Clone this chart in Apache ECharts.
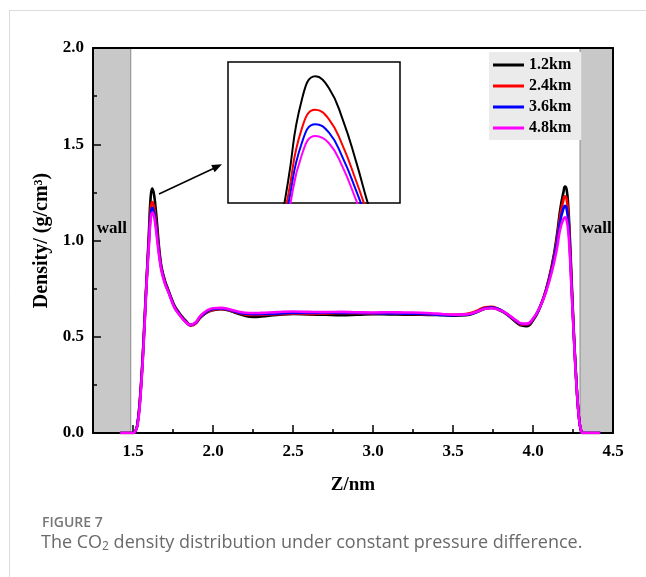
<!DOCTYPE html>
<html>
<head>
<meta charset="utf-8">
<script src="https://cdn.jsdelivr.net/npm/echarts@6/dist/echarts.min.js"></script>
<style>
html,body{margin:0;padding:0;background:#fff;}
#c{width:646px;height:577px;}
</style>
</head>
<body>
<div id="c"></div>
<script>
// Z position (nm)
const zNm = [1.42,1.50,1.52,1.53,1.54,1.55,1.56,1.57,1.58,1.59,1.60,1.61,1.62,1.63,1.64,1.65,1.66,1.67,1.68,1.70,
  1.72,1.74,1.76,1.78,1.80,1.83,1.86,1.89,1.92,1.96,2.00,2.05,2.10,2.15,2.20,2.25,2.30,2.40,2.50,2.60,
  2.70,2.80,2.90,3.00,3.10,3.20,3.30,3.40,3.50,3.58,3.65,3.70,3.74,3.78,3.82,3.86,3.90,3.93,3.96,4.00,
  4.04,4.08,4.12,4.15,4.17,4.19,4.20,4.21,4.22,4.23,4.24,4.25,4.26,4.27,4.28,4.29,4.30,4.31,4.42];
const d12 = [0,0,0.02,0.06,0.14,0.25,0.39,0.55,0.72,0.88,1.05,1.22,1.27,1.245,1.18,1.09,0.99,0.91,0.855,0.79,
  0.745,0.70,0.66,0.635,0.612,0.583,0.562,0.57,0.598,0.625,0.638,0.643,0.636,0.622,0.609,0.603,0.605,0.613,0.618,0.616,
  0.614,0.612,0.614,0.617,0.616,0.615,0.614,0.613,0.610,0.612,0.628,0.646,0.65,0.642,0.625,0.60,0.572,0.558,0.555,0.585,
  0.645,0.74,0.88,1.03,1.16,1.25,1.28,1.265,1.18,1.02,0.82,0.62,0.44,0.28,0.15,0.06,0.015,0,0];
const d24 = [0,0,0.02,0.06,0.14,0.25,0.38,0.54,0.71,0.87,1.02,1.16,1.20,1.18,1.125,1.05,0.97,0.90,0.848,0.785,
  0.74,0.695,0.655,0.63,0.607,0.578,0.558,0.568,0.60,0.628,0.641,0.645,0.638,0.626,0.616,0.613,0.614,0.617,0.620,0.619,
  0.621,0.623,0.622,0.620,0.621,0.619,0.617,0.615,0.614,0.618,0.635,0.653,0.655,0.646,0.628,0.603,0.577,0.563,0.562,0.59,
  0.648,0.74,0.87,1.01,1.13,1.21,1.23,1.215,1.14,0.99,0.80,0.61,0.43,0.28,0.15,0.06,0.015,0,0];
const d36 = [0,0,0.02,0.06,0.13,0.24,0.37,0.53,0.70,0.86,1.00,1.13,1.17,1.152,1.10,1.03,0.955,0.89,0.842,0.78,
  0.737,0.693,0.653,0.628,0.605,0.577,0.56,0.571,0.603,0.631,0.644,0.647,0.64,0.628,0.62,0.617,0.618,0.62,0.624,0.623,
  0.625,0.624,0.623,0.622,0.621,0.62,0.618,0.615,0.612,0.614,0.63,0.648,0.652,0.645,0.628,0.604,0.579,0.566,0.565,0.592,
  0.648,0.735,0.86,0.99,1.10,1.165,1.18,1.165,1.10,0.96,0.78,0.60,0.43,0.28,0.15,0.06,0.015,0,0];
const d48 = [0,0,0.02,0.05,0.12,0.23,0.36,0.52,0.69,0.85,0.98,1.105,1.145,1.13,1.08,1.01,0.94,0.88,0.835,0.775,
  0.733,0.69,0.65,0.625,0.603,0.576,0.562,0.574,0.607,0.635,0.648,0.65,0.643,0.632,0.625,0.623,0.624,0.628,0.631,0.629,
  0.628,0.629,0.627,0.626,0.627,0.626,0.625,0.62,0.615,0.616,0.63,0.645,0.648,0.642,0.628,0.606,0.582,0.569,0.568,0.594,
  0.648,0.73,0.845,0.96,1.06,1.11,1.12,1.105,1.05,0.93,0.76,0.59,0.42,0.27,0.15,0.06,0.015,0,0];

const seriesNames = ['1.2km','2.4km','3.6km','4.8km'];
const seriesColors = ['#000000','#ff0000','#0000ff','#ff00ff'];
const seriesValues = [d12,d24,d36,d48];
const wallLeft = [1.25, 1.486];
const wallRight = [4.294, 4.5];

const serif = '"Liberation Serif","Times New Roman",serif';
const chart = echarts.init(document.getElementById('c'), null, {renderer:'canvas'});

function pairs(vals){ return zNm.map((z,i)=>[z, vals[i]]); }

const series = [];
series.push({
  type:'line', name:'walls', xAxisIndex:0, yAxisIndex:0, data:[], z:1, silent:true,
  markArea:{
    silent:true,
    itemStyle:{color:'#c8c8c8', borderColor:'#8a8a8a', borderWidth:1},
    label:{show:true, position:['50%','47%'], align:'center', verticalAlign:'middle', formatter:'wall',
      fontFamily:serif, fontWeight:'bold', fontSize:17, color:'#000'},
    data:[
      [{xAxis:wallLeft[0], yAxis:0},{xAxis:wallLeft[1], yAxis:2}],
      [{xAxis:wallRight[0], yAxis:0},{xAxis:wallRight[1], yAxis:2}]
    ]
  }
});
seriesValues.forEach((v,i)=>{
  series.push({type:'line', name:seriesNames[i], xAxisIndex:0, yAxisIndex:0, data:pairs(v),
    smooth:0.5, showSymbol:false, symbol:'none', z:3+i,
    lineStyle:{color:seriesColors[i], width:2.6}, itemStyle:{color:seriesColors[i]}});
});
seriesValues.forEach((v,i)=>{
  series.push({type:'line', name:seriesNames[i], xAxisIndex:3, yAxisIndex:2, data:pairs(v),
    smooth:0.5, showSymbol:false, symbol:'none', z:3+i, clip:true,
    lineStyle:{color:seriesColors[i], width:2}, itemStyle:{color:seriesColors[i]}});
});

const labelStyle = {fontFamily:serif, fontWeight:'bold', fontSize:17, color:'#000'};

chart.setOption({
  animation:false,
  backgroundColor:'#fff',
  grid:[
    {left:93, top:48, width:520, height:385, show:false},
    {left:228, top:62, width:172, height:141, show:true, borderColor:'#000', borderWidth:1.5, backgroundColor:'#fff', z:2}
  ],
  legend:{
    data:seriesNames, orient:'vertical', left:489, top:52, icon:'rect', itemWidth:31, itemHeight:3,
    itemGap:5, backgroundColor:'#ebebeb', padding:[5,10,4,4],
    textStyle:{fontFamily:serif, fontWeight:'bold', fontSize:16, color:'#000', lineHeight:16}
  },
  xAxis:[
    {type:'value', gridIndex:0, position:'bottom', min:1.25, max:4.5, splitNumber:6, z:5,
      axisLine:{show:true, onZero:false, lineStyle:{color:'#000', width:2}},
      axisTick:{show:true, inside:true, length:8, lineStyle:{color:'#000', width:1.5}},
      axisLabel:Object.assign({margin:10, formatter:v=> (Math.abs(v*2-Math.round(v*2))<1e-6 ? v.toFixed(1) : '')}, labelStyle),
      splitLine:{show:false},
      name:'Z/nm', nameLocation:'middle', nameGap:43,
      nameTextStyle:{fontFamily:serif, fontWeight:'bold', fontSize:19, color:'#000'}},
    {type:'value', gridIndex:0, position:'bottom', min:1.25, max:4.5, interval:0.25, z:5,
      axisLine:{show:false}, axisTick:{show:true, inside:true, length:4, lineStyle:{color:'#000', width:1.5}},
      axisLabel:{show:false}, splitLine:{show:false}},
    {type:'value', gridIndex:0, position:'top', min:1.25, max:4.5, z:5,
      axisLine:{show:true, onZero:false, lineStyle:{color:'#000', width:2}},
      axisTick:{show:false}, axisLabel:{show:false}, splitLine:{show:false}},
    {type:'value', gridIndex:1, min:1.556, max:1.682, show:false}
  ],
  yAxis:[
    {type:'value', gridIndex:0, position:'left', min:0, max:2, interval:0.5, z:5,
      axisLine:{show:true, onZero:false, lineStyle:{color:'#000', width:2}},
      axisTick:{show:true, inside:true, length:8, lineStyle:{color:'#000', width:1.5}},
      minorTick:{show:true, splitNumber:2, length:4, lineStyle:{color:'#000', width:1.5}},
      axisLabel:Object.assign({margin:9, formatter:v=>v.toFixed(1)}, labelStyle),
      splitLine:{show:false},
      name:'Density/ (g/cm³)', nameLocation:'middle', nameGap:34, nameRotate:90,
      nameTextStyle:{fontFamily:serif, fontWeight:'bold', fontSize:20, color:'#000'}},
    {type:'value', gridIndex:0, position:'right', min:0, max:2, z:5,
      axisLine:{show:true, onZero:false, lineStyle:{color:'#000', width:2}},
      axisTick:{show:false}, axisLabel:{show:false}, splitLine:{show:false}},
    {type:'value', gridIndex:1, min:1.005, max:1.30, show:false}
  ],
  series:series,
  graphic:[
    {type:'line', shape:{x1:9.5, y1:10, x2:9.5, y2:577}, style:{stroke:'#dcdcdc', lineWidth:1}, silent:true},
    {type:'line', shape:{x1:9, y1:10.5, x2:646, y2:10.5}, style:{stroke:'#dcdcdc', lineWidth:1}, silent:true},
    {type:'line', shape:{x1:159, y1:194, x2:214, y2:168.2}, style:{stroke:'#000', lineWidth:1.5}, z:20, silent:true},
    {type:'polygon', shape:{points:[[222,164.3],[214.6,172.2],[211.2,165.0]]}, style:{fill:'#000'}, z:20, silent:true},
    {type:'text', left:42, top:516, style:{text:'FIGURE 7', fontFamily:'"Open Sans",sans-serif', fontWeight:600, fontSize:14, fill:'#777'}, silent:true},
    {type:'text', left:41, top:534, style:{text:'The CO{sub|2} density distribution under constant pressure difference.',
      fontFamily:'"Open Sans",sans-serif', fontSize:18, fill:'#6a6a6a',
      rich:{sub:{fontFamily:'"Open Sans",sans-serif', fontSize:12, fill:'#6a6a6a', padding:[8,0,0,0]}}}, silent:true}
  ]
});
</script>
</body>
</html>
